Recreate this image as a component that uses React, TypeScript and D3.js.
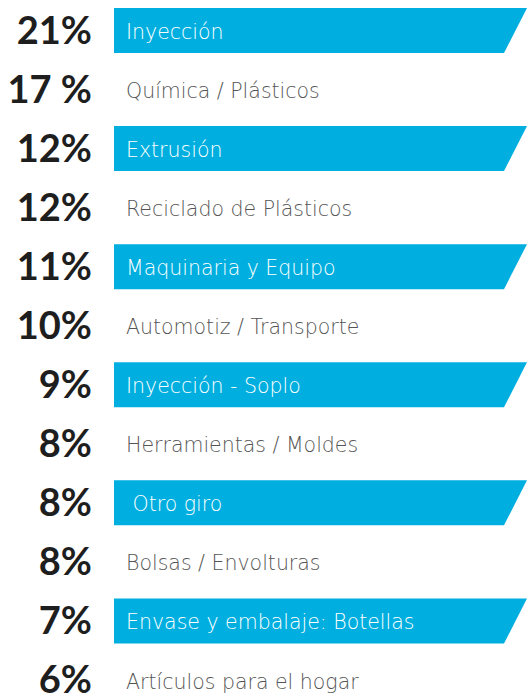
import { useEffect, useRef } from "react";
import * as d3 from "d3";

// sectors, top to bottom
const categories = [
  "Inyección",
  "Química / Plásticos",
  "Extrusión",
  "Reciclado de Plásticos",
  "Maquinaria y Equipo",
  "Automotiz / Transporte",
  "Inyección - Soplo",
  "Herramientas / Moldes",
  " Otro giro",
  "Bolsas / Envolturas",
  "Envase y embalaje: Botellas",
  "Artículos para el hogar",
];
const values = [21, 17, 12, 12, 11, 10, 9, 8, 8, 8, 7, 6];
const valueLabels = ["21%", "17 %", "12%", "12%", "11%", "10%", "9%", "8%", "8%", "8%", "7%", "6%"];

export default function App() {
  const ref = useRef<SVGSVGElement>(null);

  useEffect(() => {
    if (!ref.current) return;
    const width = 527,
      height = 694;
    const svg = d3.select(ref.current);
    svg.selectAll("*").remove();
    svg.attr("width", width).attr("height", height);

    const rows = categories.map((c, i) => ({ cat: c, value: values[i], label: valueLabels[i], i }));

    // one row per sector
    const y = d3.scalePoint<number>().domain(d3.range(rows.length)).range([30.5, 680]);
    const barH = 45,
      x0 = 114,
      x1 = 527,
      slant = 23;

    // highlighted rows get a slanted blue band
    svg
      .selectAll("path.band")
      .data(rows.filter((d) => d.i % 2 === 0))
      .enter()
      .append("path")
      .attr("class", "band")
      .attr("d", (d) => {
        const t = y(d.i)! - barH / 2;
        return `M${x0},${t}L${x1},${t}L${x1 - slant},${t + barH}L${x0},${t + barH}Z`;
      })
      .attr("fill", "#00afdf");

    // percentages
    svg
      .selectAll("text.pct")
      .data(rows)
      .enter()
      .append("text")
      .attr("class", "pct")
      .attr("x", 92)
      .attr("y", (d) => y(d.i)! + 13)
      .attr("text-anchor", "end")
      .style("font-family", "Lato, sans-serif")
      .style("font-weight", "bold")
      .style("font-size", "38px")
      .style("fill", "#1e1e1e")
      .style("white-space", "pre")
      .text((d) => d.label);

    // sector names
    svg
      .selectAll("text.cat")
      .data(rows)
      .enter()
      .append("text")
      .attr("class", "cat")
      .attr("x", 126)
      .attr("y", (d) => y(d.i)! + 8.5)
      .style("font-family", "'DejaVu Sans', sans-serif")
      .style("font-weight", 300)
      .style("font-size", "20.5px")
      .style("fill", (d) => (d.i % 2 === 0 ? "#ffffff" : "#555555"))
      .style("white-space", "pre")
      .text((d) => d.cat);
  }, []);

  return <svg ref={ref} style={{ position: "absolute", left: 0, top: 0, background: "#fff" }} />;
}
